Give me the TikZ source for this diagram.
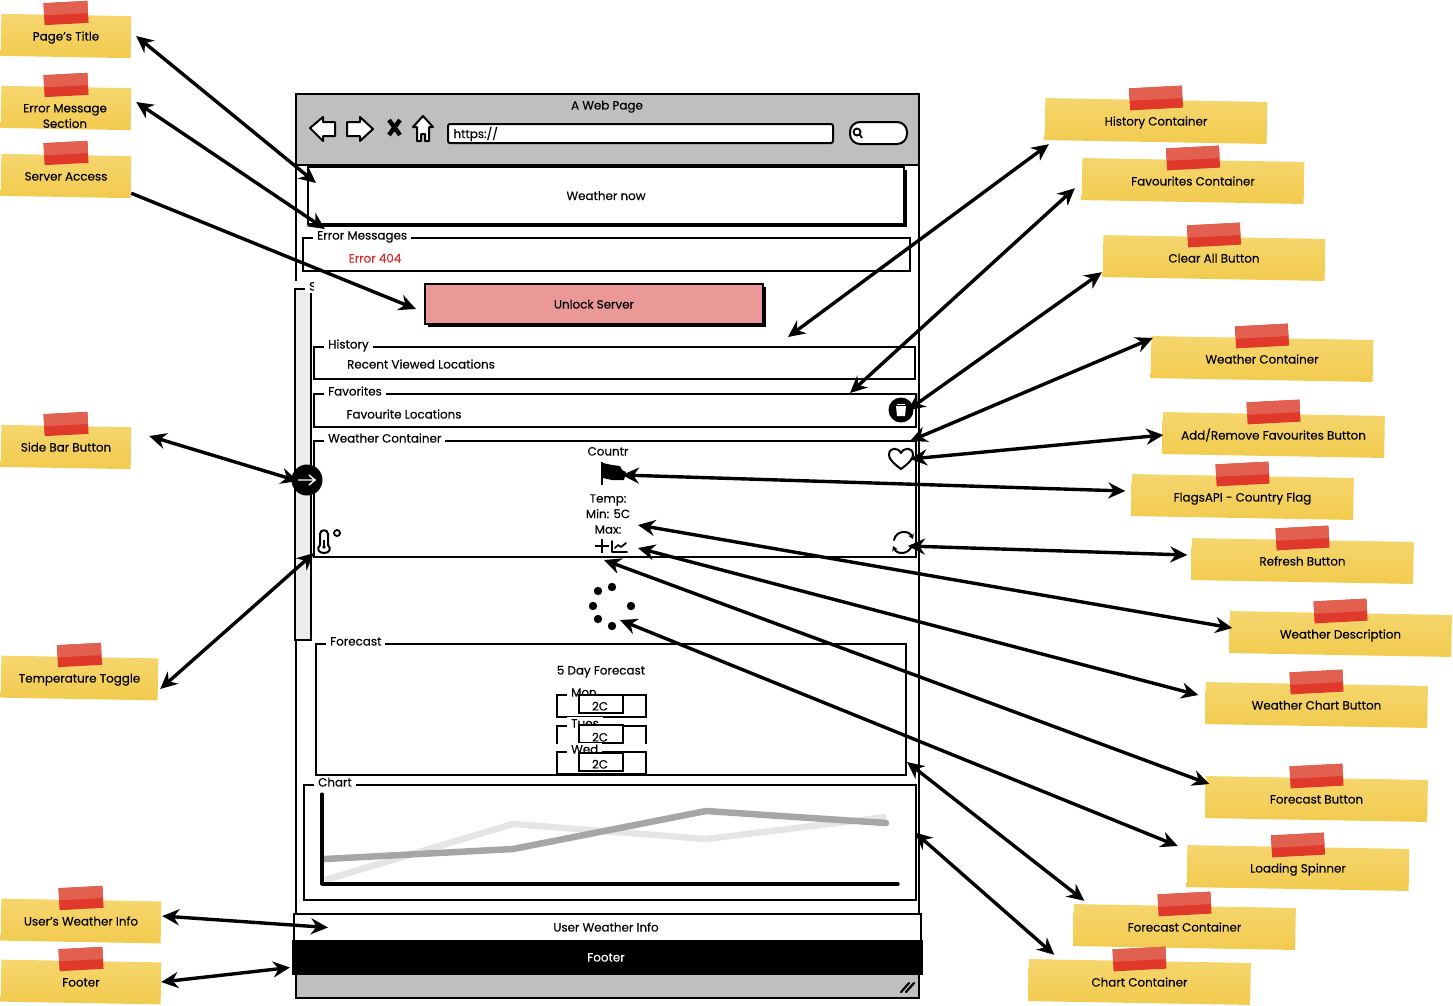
\documentclass[tikz,border=0pt]{standalone}
\usepackage{fontspec}
\setmainfont{Poppins}[FakeBold=0.2]
\usepackage{tikz}
\usetikzlibrary{arrows.meta, positioning, calc, fit, shadows}

\definecolor{notelight}{HTML}{F5D66E}
\definecolor{notedark}{HTML}{F2CB4E}
\definecolor{tapelight}{HTML}{E2604F}
\definecolor{tapedark}{HTML}{E0392B}
\definecolor{barfill}{HTML}{BFBFBF}
\definecolor{sidefill}{HTML}{EDEDED}
\definecolor{unlockfill}{HTML}{EA9898}

% name, centre, note width, tape width, text
\newcommand{\stickynote}[5]{
    \node[notebody, minimum width=#3pt] (#1body) at (#2) {};
    \node[tape, minimum width=#4pt] (#1tape) at ([shift={(0,-23)}]#1body.center) {};
    \node[notetext, minimum width=#3pt] (#1) at (#2) {#5};
}

\begin{document}
\begin{tikzpicture}[
    x=1pt, y=-1pt,
    font=\fontsize{11.9}{15.5}\selectfont,
    every node/.style={text height=11pt, text depth=2pt},
    multiline/.style={align=center, text height={}, text depth={}},
    notebody/.style={rotate=-1, minimum height=42pt, inner sep=0pt, top color=notelight, bottom color=notedark},
    notetext/.style={minimum height=44pt, inner sep=0pt},
    tape/.style={rotate=3, minimum height=22pt, inner sep=0pt, fill=tapedark,
        path picture={\fill[tapelight] (path picture bounding box.north west) rectangle (path picture bounding box.east);}},
    box/.style={draw, inner sep=0pt, outer sep=0pt, line width=2pt},
    field/.style={box, line width=1.8pt},
    fieldlabel/.style={anchor=west, xshift=10pt, yshift=3pt, fill=white, inner xsep=4pt, inner ysep=0pt},
    hardshadow/.style={drop shadow={shadow xshift=2.5pt, shadow yshift=-2.5pt, opacity=1, fill=black}},
    icon/.style={line width=2pt, line join=round, line cap=round},
    link/.style={line width=3.4pt, {Stealth[length=17pt,width=16pt]}-{Stealth[length=17pt,width=16pt]}},
    oneway/.style={line width=3.4pt, -{Stealth[length=17pt,width=16pt]}}
]
    \useasboundingbox (0,0) rectangle (1453,1005);

    % Window
    \node[box, line width=2.4pt, fit={(296,94)(919,998)}] (window) {};
    \node[box, fill=barfill, line width=2.4pt, fit={(296,974)(919,998)}] (statusbar) {};
    \node[fill=white, inner sep=0pt, fit={(293,281)(299,288)}] (windowgap) {};

    % Weather now
    \node[box, fill=white, hardshadow, fit={(308,167)(904,224)}] (nowbox) {};
    \node (nowtext) at (nowbox.center) {Weather now};

    % Top bar
    \node[box, fill=barfill, line width=2.4pt, fit={(296,94)(919,165)}] (topbar) {};
    \node (pagename) at (607,105) {A Web Page};
    \draw[icon, fill=white] (310,128) -- (323,117) -- (323,122) -- (335,122) -- (335,136) -- (323,136) -- (323,141) -- cycle;
    \draw[icon, fill=white] (373,129) -- (360,117) -- (360,122) -- (347,122) -- (347,136) -- (360,136) -- (360,141) -- cycle;
    \draw[line width=4.4pt] (389,120) -- (400,135) (400,120) -- (389,135);
    \draw[icon, fill=white] (423,116) -- (433,127) -- (429,127) -- (429,141) -- (425,141) -- (425,134) -- (421,134) -- (421,141) -- (417,141) -- (417,127) -- (413,127) -- cycle;
    \node[box, fill=white, rounded corners=2pt, fit={(448,124)(833,143)}] (urlbar) {};
    \node[right=2pt of urlbar.west] (urltext) {https://};
    \node[box, fill=white, rounded corners=10pt, fit={(850,122)(907,144)}] (searchbar) {};
    \draw[line width=1.8pt] (857,132) circle[radius=3.5] (860,135) -- (862,138);

    % Fieldsets
    \node[field, fit={(303,238)(910,271)}] (errorbox) {};
    \node[fieldlabel] (errorlabel) at (errorbox.north west) {Error Messages};
    \node[text={rgb,255:red,220;green,40;blue,40}] (errortext) at (375,258) {Error 404};

    \node[box, fill=unlockfill, hardshadow, fit={(425,284)(763,324)}] (unlock) {};
    \node (unlocktext) at (594,304) {Unlock Server};

    \node[field, fit={(314,347)(915,379)}] (historybox) {};
    \node[fieldlabel] (historylabel) at (historybox.north west) {History};
    \node (historytext) at (421,364) {Recent Viewed Locations};

    \node[field, fit={(314,394)(916,427)}] (favbox) {};
    \node[fieldlabel] (favlabel) at (favbox.north west) {Favorites};
    \node (favtext) at (404,414) {Favourite Locations};

    \node[field, fit={(314,441)(916,557)}] (weatherbox) {};
    \node[fieldlabel] (weatherlabel) at (weatherbox.north west) {Weather Container};
    \node (country) at (608,451) {Countr};
    \node[multiline] (tempinfo) at (608,514) {Temp:\\Min: 5C\\Max:};

    % Side bar
    \node[box, fill=sidefill, fit={(295,289)(311,640)}] (sidebar) {};
    \node[fieldlabel] (sidelabel) at (sidebar.north west) {S};
    \node[fill=white, inner sep=0pt, fit={(314,278)(323,294)}] (sidecover) {};

    % Icons
    \node[circle, fill=black, minimum size=25pt, inner sep=0pt] (trash) at (901,410) {};
    \fill[white] (896,406) -- (906,406) -- (905,416) -- (897,416) -- cycle;
    \fill[white] (897,403.5) rectangle (905,405);
    \coordinate (heart) at (901,459);
    \draw[icon, shift={(heart)}, fill=white] (0,10) .. controls (-8,4) and (-12,0) .. (-12,-4) .. controls (-12,-12) and (-3,-12) .. (0,-6) .. controls (3,-12) and (12,-12) .. (12,-4) .. controls (12,0) and (8,4) .. (0,10) -- cycle;
    \coordinate (flag) at (613,474);
    \draw[line width=2.6pt] (602,462) -- (602,485);
    \fill (603,463) -- (612,465) -- (620,466) -- (622,470) -- (626,472) -- (624,480) -- (612,480) -- (603,478) -- cycle;
    \coordinate (refresh) at (903,542);
    \draw[icon, -{Stealth[length=5pt,width=6pt]}] (894,540) .. controls (896,530) and (909,530) .. (913,539);
    \draw[icon, -{Stealth[length=5pt,width=6pt]}] (912,545) .. controls (909,555) and (897,555) .. (893,546);
    \coordinate (plus) at (602,546);
    \draw[line width=2.2pt] (595,546) -- (609,546) (602,539) -- (602,553);
    \coordinate (chartbtn) at (619,547);
    \draw[icon, line width=1.7pt] (612,541) -- (612,552) -- (627,552);
    \draw[icon, line width=1.7pt] (615,548) -- (618,545) -- (621,547) -- (626,543);
    \coordinate (thermo) at (324,541);
    \draw[icon] (320,545) -- (320,534) .. controls (320,529) and (328,529) .. (328,534) -- (328,545) .. controls (332,549) and (329,553) .. (324,553) .. controls (319,553) and (316,549) .. (320,545) -- cycle;
    \draw[line width=1.4pt] (324,540) -- (324,547);
    \fill (324,547) circle[radius=1.8];
    \draw[line width=1.8pt] (337,533) circle[radius=3];
    \node[circle, fill=black, minimum size=31pt, inner sep=0pt] (sidebtn) at (307,480) {};
    \draw[white, line width=1.4pt] (298,480) -- (316,480) (309,475) -- (315,480) -- (309,485);

    % Spinner
    \coordinate (spinner) at (612,606);
    \fill (598,591) circle[radius=4.2] (612,587) circle[radius=4.2] (593,606) circle[radius=4.2] (631,606) circle[radius=4.2] (598,619) circle[radius=4.2] (612,626) circle[radius=4.2];

    % Forecast
    \node[field, fit={(316,644)(906,775)}] (forecastbox) {};
    \node[fieldlabel] (forecastlabel) at (forecastbox.north west) {Forecast};
    \node (fivedays) at (601,670) {5 Day Forecast};

    \node[field, fit={(557,695)(646,717)}] (monbox) {};
    \node[fieldlabel] (monlabel) at (monbox.north west) {Mon};
    \node[box, fill=white, fit={(579,695)(623,713)}] (montemp) {};
    \node (montext) at (600,706) {2C};

    \node[field, fill=white, fit={(557,726)(646,752)}] (tuesbox) {};
    \node[fieldlabel] (tueslabel) at (tuesbox.north west) {Tues};
    \node[fill=white, inner sep=0pt, fit={(555,744)(648,751)}] (tuescover) {};
    \node[box, fill=white, fit={(579,725)(623,743)}] (tuestemp) {};
    \node (tuestext) at (600,737) {2C};

    \node[field, fill=white, fit={(557,752)(646,774)}] (wedbox) {};
    \node[fieldlabel] (wedlabel) at (wedbox.north west) {Wed};
    \node[box, fill=white, fit={(579,753)(623,771)}] (wedtemp) {};
    \node (wedtext) at (600,764) {2C};

    % Chart
    \node[field, fit={(304,785)(916,900)}] (chartbox) {};
    \node[fieldlabel] (chartlabel) at (chartbox.north west) {Chart};
    \draw[line width=6.5pt, black!10] (325,880) -- (513,824) -- (706,839) -- (886,817);
    \draw[line width=6.5pt, black!35, line cap=round] (325,859) -- (513,849) -- (706,811) -- (886,823);
    \draw[line width=3.2pt, line cap=round, line join=round] (322,794) -- (322,884) -- (898,884);

    % Bars
    \node[box, fill=white, fit={(294,914)(921,941)}] (userbar) {};
    \node (usertext) at (606,927) {User Weather Info};
    \node[box, fill=black, fit={(293,941)(922,974)}] (footerbar) {};
    \node[text=white] (footertext) at (606,957) {Footer};
    \draw[line width=2.2pt, line cap=round] (901,992) -- (909,983) (906,992) -- (914,983);

    % Notes
    \stickynote{titlenote}{66,36}{130}{44}{Page's Title}
    \stickynote{errornote}{66,108}{130}{44}{}
    \node[multiline] (errornotetext) at (65,116) {Error Message\\Section};
    \stickynote{servernote}{66,176}{130}{44}{Server Access}
    \stickynote{sidenote}{66,447}{130}{44}{Side Bar Button}
    \stickynote{tempnote}{79.5,678}{157}{44}{Temperature Toggle}
    \stickynote{usernote}{81,921}{160}{44}{User's Weather Info}
    \stickynote{footernote}{81,982}{160}{44}{Footer}
    \stickynote{historynote}{1156,121}{222}{53}{History Container}
    \stickynote{favnote}{1193,181}{222}{53}{Favourites Container}
    \stickynote{clearnote}{1214,258}{222}{53}{Clear All Button}
    \stickynote{weathernote}{1262,359}{222}{53}{Weather Container}
    \stickynote{addnote}{1273.5,435}{222}{53}{Add/Remove Favourites Button}
    \stickynote{flagnote}{1242.5,497}{222}{53}{FlagsAPI - Country Flag}
    \stickynote{refreshnote}{1302.5,561}{222}{53}{Refresh Button}
    \stickynote{descnote}{1340.5,634}{222}{53}{Weather Description}
    \stickynote{chartbtnnote}{1316.5,705}{222}{53}{Weather Chart Button}
    \stickynote{forecastbtnnote}{1316.5,799}{222}{53}{Forecast Button}
    \stickynote{spinnernote}{1298,868}{222}{53}{Loading Spinner}
    \stickynote{forecastnote}{1184.5,927}{222}{53}{Forecast Container}
    \stickynote{chartnote}{1139.5,982}{222}{53}{Chart Container}

    % Connections
    \draw[link] ([shift={(5,0)}]titlenote.east) -- ([shift={(8,16)}]nowbox.north west);
    \draw[link] ([shift={(5,-6)}]errornote.east) -- ([shift={(22,-9)}]errorbox.north west);
    \draw[oneway] ([shift={(0,-5)}]servernote.south east) -- ([shift={(-9,5)}]unlock.west);
    \draw[link] ([shift={(4,1)}]historynote.south west) -- ([shift={(-127,-10)}]historybox.north east);
    \draw[link] ([shift={(-7,-15)}]favnote.south west) -- ([shift={(-66,-1)}]favbox.north east);
    \draw[link] ([shift={(-1,-8)}]clearnote.south west) -- ([shift={(7,0)}]trash.center);
    \draw[link] ([shift={(2,-21)}]weathernote.west) -- ([shift={(-6,0)}]weatherbox.north east);
    \draw[link] ([shift={(1,0)}]addnote.west) -- ([shift={(9,0)}]heart);
    \draw[link] ([shift={(-6,-6)}]flagnote.west) -- ([shift={(9,1)}]flag);
    \draw[link] ([shift={(-4,-6)}]refreshnote.west) -- ([shift={(5,4)}]refresh);
    \draw[link] ([shift={(3,-6)}]descnote.west) -- ([shift={(30,11)}]tempinfo.center);
    \draw[link] ([shift={(-7,-10)}]chartbtnnote.west) -- ([shift={(19,1)}]chartbtn);
    \draw[link] ([shift={(4,-15)}]forecastbtnnote.west) -- ([shift={(2,14)}]plus);
    \draw[link] ([shift={(-9,-22)}]spinnernote.west) -- ([shift={(8,14)}]spinner);
    \draw[link] ([shift={(11,-4)}]forecastnote.north west) -- ([shift={(1,-13)}]forecastbox.south east);
    \draw[link] ([shift={(26,-5)}]chartnote.north west) -- ([shift={(-1,-10)}]chartbox.east);
    \draw[link] ([shift={(18,-11)}]sidenote.east) -- ([shift={(-9,1)}]sidebtn.center);
    \draw[link] ([shift={(2,11)}]tempnote.east) -- ([shift={(-10,12)}]thermo);
    \draw[link] ([shift={(1,-5)}]usernote.east) -- ([shift={(34,0)}]userbar.west);
    \draw[link] (footernote.east) -- ([shift={(-3,10)}]footerbar.west);
\end{tikzpicture}
\end{document}
